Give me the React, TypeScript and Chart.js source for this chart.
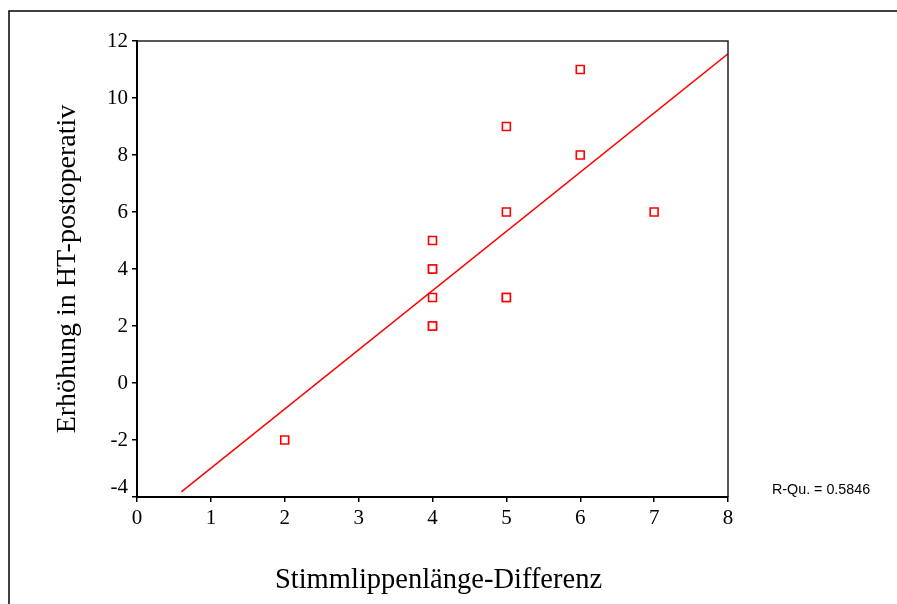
import React, { useEffect, useRef } from "react";
import { Chart, registerables } from "chart.js";

Chart.register(...registerables);

const xValues = [2, 4, 4, 4, 4, 4, 4, 5, 5, 5, 5, 6, 6, 7];
const yValues = [-2, 5, 4, 4, 3, 2, 2, 9, 6, 3, 3, 11, 8, 6];
const fitX = [0.6, 8];
const fitY = [-3.82, 11.55];
const xTitle = "Stimmlippenlänge-Differenz";
const yTitle = "Erhöhung in HT-postoperativ";
const rsqLabel = "R-Qu. = 0.5846";
const yMin = -4;

const serif = "'Liberation Serif', 'Times New Roman', serif";

const framePlugin = {
  id: "frame",
  afterDraw(chart: any) {
    const { ctx, chartArea, scales } = chart;
    ctx.save();
    ctx.strokeStyle = "#000";
    ctx.lineWidth = 1.5;
    ctx.beginPath();
    ctx.moveTo(897, 11);
    ctx.lineTo(9, 11);
    ctx.lineTo(9, 604);
    ctx.stroke();
    ctx.strokeStyle = "#222";
    ctx.lineWidth = 1.5;
    ctx.beginPath();
    ctx.moveTo(chartArea.left, chartArea.top);
    ctx.lineTo(chartArea.right, chartArea.top);
    ctx.lineTo(chartArea.right, chartArea.bottom);
    ctx.stroke();
    ctx.fillStyle = "#000";
    ctx.font = "14.3px 'Liberation Sans', Arial, sans-serif";
    ctx.textAlign = "left";
    ctx.textBaseline = "middle";
    ctx.fillText(rsqLabel, chartArea.right + 44, chartArea.bottom - 7);
    // lowest y tick label, lifted above the x axis
    ctx.font = `21px ${serif}`;
    ctx.textAlign = "right";
    ctx.fillText(String(yMin), chartArea.left - 9, scales.y.getPixelForValue(yMin) - 10);
    // x axis title
    ctx.font = `28.5px ${serif}`;
    ctx.textAlign = "center";
    ctx.fillText(xTitle, (chartArea.left + chartArea.right) / 2 + 6, 581);
    ctx.restore();
  },
};

export default function App() {
  const ref = useRef<HTMLCanvasElement | null>(null);
  useEffect(() => {
    if (!ref.current) return;
    const points = xValues.map((x, i) => ({ x, y: yValues[i] }));
    const line = fitX.map((x, i) => ({ x, y: fitY[i] }));
    const chart = new Chart(ref.current, {
      type: "scatter",
      data: {
        datasets: [
          {
            data: line,
            showLine: true,
            borderColor: "#ff0000",
            borderWidth: 1.5,
            pointRadius: 0,
            fill: false,
          },
          {
            data: points,
            pointStyle: "rect",
            pointRadius: 5.6,
            pointBorderColor: "#ff0000",
            pointBackgroundColor: "#ffffff",
            pointBorderWidth: 1.6,
            borderColor: "#ff0000",
            backgroundColor: "#ffffff",
          },
        ],
      },
      options: {
        animation: false,
        responsive: false,
        maintainAspectRatio: false,
        layout: { padding: { left: 47, top: 41, right: 169, bottom: 3 } },
        plugins: { legend: { display: false }, tooltip: { enabled: false } },
        scales: {
          x: {
            type: "linear",
            min: 0,
            max: 8,
            afterFit: (s: any) => {
              s.height = 104;
            },
            ticks: {
              stepSize: 1,
              color: "#000",
              padding: 4,
              maxRotation: 0,
              font: { family: serif, size: 21 },
            },
            grid: { drawOnChartArea: false, drawTicks: true, tickLength: 5, color: "#000", lineWidth: 1.5 },
            border: { color: "#000", width: 2 },
            title: { display: false },
          },
          y: {
            type: "linear",
            min: yMin,
            max: 12,
            afterFit: (s: any) => {
              s.width = 90;
            },
            ticks: {
              stepSize: 2,
              color: "#000",
              padding: 4,
              font: { family: serif, size: 21 },
              callback: (v: any) => (v === yMin ? "" : String(v)),
            },
            grid: { drawOnChartArea: false, drawTicks: true, tickLength: 5, color: "#000", lineWidth: 1.5 },
            border: { color: "#000", width: 2 },
            title: {
              display: true,
              text: yTitle,
              color: "#000",
              padding: 4,
              font: { family: serif, size: 28 },
            },
          },
        },
      },
      plugins: [framePlugin],
    });
    return () => chart.destroy();
  }, []);
  return (
    <div style={{ position: "absolute", left: 0, top: 0, width: 897, height: 604, background: "#fff" }}>
      <canvas ref={ref} width={897} height={604} style={{ display: "block", width: 897, height: 604 }} />
    </div>
  );
}
